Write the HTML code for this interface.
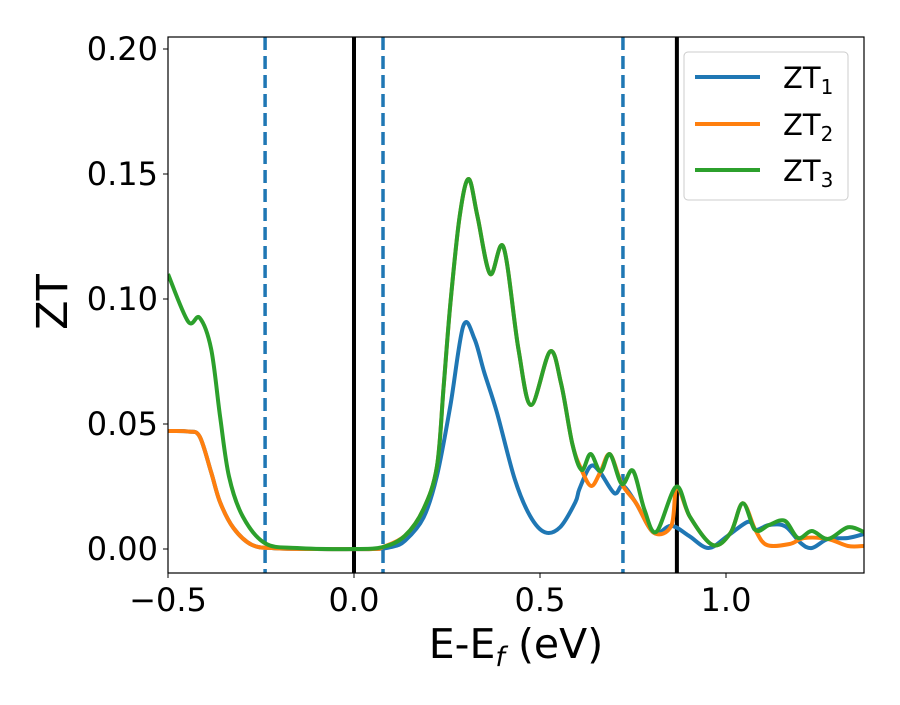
<!DOCTYPE html>
<html><head><meta charset="utf-8"><style>
html,body{margin:0;padding:0;background:#fff;}
svg text{font-family:"DejaVu Sans","Liberation Sans",sans-serif;fill:#000;}
</style></head><body>
<svg id="chart" width="900" height="700" xmlns="http://www.w3.org/2000/svg">
<g id="plot"></g>
</svg>
<script>
const xTicks=[-0.5,0.0,0.5,1.0];
const xTickLabels=["\u22120.5","0.0","0.5","1.0"];
const yTicks=[0,0.05,0.10,0.15,0.20];
const yTickLabels=["0.00","0.05","0.10","0.15","0.20"];
const vDashed=[-0.239,0.078,0.723];
const vSolid=[0.0,0.868];
const seriesNames=["ZT1","ZT2","ZT3"];
const blueX=[-0.5,-0.446,-0.415,-0.384,-0.36,-0.324,-0.275,-0.214,-0.1,0.05,0.1,0.137,0.187,0.223,0.259,0.294,0.324,0.35,0.384,0.432,0.473,0.513,0.554,0.595,0.606,0.635,0.66,0.70,0.723,0.758,0.806,0.853,0.90,0.953,1.005,1.06,1.08,1.116,1.16,1.20,1.231,1.274,1.328,1.371];
const blueY=[0.0472,0.047,0.045,0.0307,0.0187,0.0084,0.0017,0.0003,0,0,0.0008,0.0033,0.0126,0.0293,0.0573,0.0893,0.084,0.0707,0.0547,0.028,0.0133,0.0067,0.0087,0.0187,0.024,0.033,0.031,0.0223,0.0253,0.0184,0.0065,0.0093,0.0053,0.0004,0.0053,0.0109,0.0076,0.0096,0.009,0.0025,0.0004,0.004,0.0044,0.006];
const orangeX=[-0.5,-0.446,-0.415,-0.384,-0.36,-0.324,-0.275,-0.214,-0.1,0.05,0.078,0.137,0.187,0.223,0.241,0.259,0.284,0.308,0.332,0.366,0.402,0.442,0.476,0.527,0.557,0.587,0.612,0.638,0.663,0.688,0.72,0.758,0.806,0.853,0.868,0.903,0.964,1.012,1.045,1.079,1.11,1.171,1.21,1.274,1.328,1.371];
const orangeY=[0.0472,0.047,0.045,0.0307,0.0187,0.0084,0.0017,0.0003,0,0,0.0008,0.0053,0.016,0.033,0.065,0.098,0.133,0.148,0.133,0.110,0.1207,0.080,0.0576,0.079,0.066,0.042,0.0316,0.0252,0.031,0.0379,0.026,0.0184,0.0065,0.0093,0.0249,0.0129,0.0016,0.0064,0.0183,0.0076,0.0016,0.002,0.0044,0.004,0.0012,0.0012];
const greenX=[-0.5,-0.446,-0.415,-0.384,-0.36,-0.336,-0.299,-0.239,-0.153,0.0,0.078,0.137,0.187,0.223,0.241,0.259,0.284,0.308,0.332,0.366,0.402,0.442,0.476,0.527,0.557,0.587,0.612,0.636,0.663,0.688,0.72,0.75,0.781,0.813,0.866,0.903,0.964,1.012,1.045,1.079,1.116,1.158,1.194,1.231,1.274,1.328,1.371];
const greenY=[0.110,0.091,0.0925,0.080,0.053,0.029,0.013,0.0023,0.0004,0,0.0008,0.0053,0.016,0.033,0.065,0.098,0.133,0.148,0.133,0.110,0.1207,0.080,0.0576,0.079,0.066,0.042,0.0316,0.038,0.031,0.0379,0.026,0.0313,0.0156,0.0069,0.0249,0.0129,0.0016,0.0064,0.0183,0.0076,0.0096,0.0113,0.0044,0.0072,0.004,0.0087,0.0068];

const L=168,R=864,T=37,B=573,xMin=-0.5,xMax=1.371,yMin=-0.0096,yMax=0.2048;
function sx(v){return L+(v-xMin)/(xMax-xMin)*(R-L);}
function sy(v){return B-(v-yMin)/(yMax-yMin)*(B-T);}
const NS="http://www.w3.org/2000/svg";
const svg=document.getElementById('chart');
const plot=document.getElementById('plot');
function mk(tag,attrs,parent){const e=document.createElementNS(NS,tag);for(const k in attrs)e.setAttribute(k,attrs[k]);(parent||svg).appendChild(e);return e;}
const clip=mk('clipPath',{id:'cp'});mk('rect',{x:L,y:T,width:R-L,height:B-T},clip);
plot.setAttribute('clip-path','url(#cp)');
function pathFor(xs,ys){
  const p=xs.map((x,i)=>[sx(x),sy(ys[i])]);
  let d='M'+p[0][0].toFixed(2)+','+p[0][1].toFixed(2);
  for(let i=0;i<p.length-1;i++){
    const p0=p[i-1]||p[i],p1=p[i],p2=p[i+1],p3=p[i+2]||p2;
    const c1=[p1[0]+(p2[0]-p0[0])/6,p1[1]+(p2[1]-p0[1])/6];
    const c2=[p2[0]-(p3[0]-p1[0])/6,p2[1]-(p3[1]-p1[1])/6];
    d+=' C'+c1[0].toFixed(2)+','+c1[1].toFixed(2)+' '+c2[0].toFixed(2)+','+c2[1].toFixed(2)+' '+p2[0].toFixed(2)+','+p2[1].toFixed(2);
  }
  return d;
}
vDashed.forEach(v=>{
  const l=mk('line',{x1:sx(v),x2:sx(v),y1:T,y2:B,stroke:'#1f77b4','stroke-width':3.5,'stroke-dasharray':'13,6'},plot);
  
  
});
vSolid.forEach(v=>{
  const l=mk('line',{x1:sx(v),x2:sx(v),y1:T,y2:B,stroke:'#000','stroke-width':4},plot);
  
  
});
const series=[[blueX,blueY,'#1f77b4'],[orangeX,orangeY,'#ff7f0e'],[greenX,greenY,'#2ca02c']];
series.forEach((s,i)=>{
  const p=mk('path',{d:pathFor(s[0],s[1]),fill:'none',stroke:s[2],'stroke-width':4,'stroke-linejoin':'round'},plot);
  
  
});
const frame=mk('rect',{x:L,y:T,width:R-L,height:B-T,fill:'none',stroke:'#000','stroke-width':1.2});


xTicks.forEach((v,i)=>{
  mk('line',{x1:sx(v),x2:sx(v),y1:B,y2:B+5,stroke:'#000','stroke-width':1});
  const t=mk('text',{x:sx(v),y:B+38,'font-size':32,'text-anchor':'middle'});
  t.textContent=xTickLabels[i];
  
  
});
yTicks.forEach((v,i)=>{
  mk('line',{x1:L-5,x2:L,y1:sy(v),y2:sy(v),stroke:'#000','stroke-width':1});
  const t=mk('text',{x:L-10,y:sy(v)+11,'font-size':32,'text-anchor':'end'});
  t.textContent=yTickLabels[i];
  
  
});
</script>
<svg style="position:absolute;left:0;top:0" width="900" height="700" xmlns="http://www.w3.org/2000/svg">
<text x="516" y="658" font-size="41" text-anchor="middle" font-family="DejaVu Sans, Liberation Sans, sans-serif">E-E<tspan font-size="27" dy="8" font-style="italic">f</tspan><tspan dy="-8"> (eV)</tspan></text>
<text transform="translate(67,302) rotate(-90)" font-size="43" text-anchor="middle" font-family="DejaVu Sans, Liberation Sans, sans-serif">ZT</text>
<g font-family="DejaVu Sans, Liberation Sans, sans-serif">
<rect x="684" y="52" width="164" height="148" rx="4" fill="#fff" fill-opacity="0.8" stroke="#ccc" stroke-width="1"/>
<g><line x1="695" x2="760" y1="77" y2="77" stroke="#1f77b4" stroke-width="4"/><text x="783" y="88" font-size="29">ZT<tspan font-size="20" dy="6">1</tspan></text></g>
<g><line x1="695" x2="760" y1="124" y2="124" stroke="#ff7f0e" stroke-width="4"/><text x="783" y="135" font-size="29">ZT<tspan font-size="20" dy="6">2</tspan></text></g>
<g><line x1="695" x2="760" y1="170" y2="170" stroke="#2ca02c" stroke-width="4"/><text x="783" y="181" font-size="29">ZT<tspan font-size="20" dy="6">3</tspan></text></g>
</g>
</svg>
</body></html>
